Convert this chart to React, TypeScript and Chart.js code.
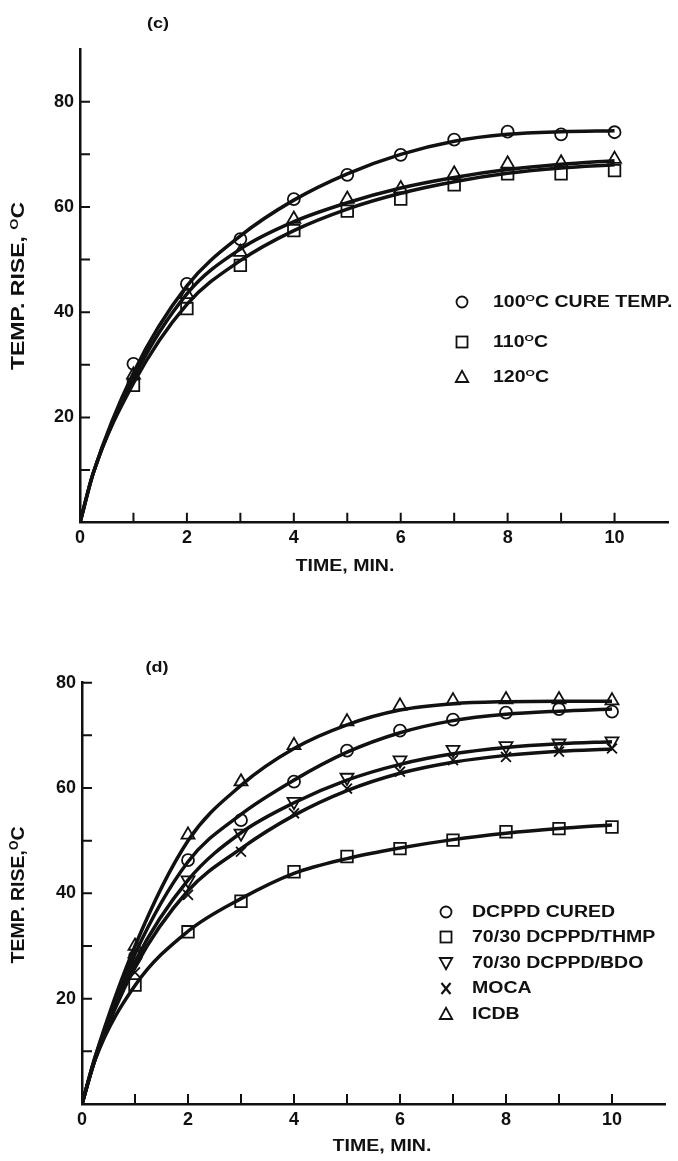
import React, { useEffect, useRef } from "react";
import { Chart, registerables } from "chart.js";

Chart.register(...registerables);

// ---------- Panel (c): cure temperature ----------
const C_MARK_T = [1, 2, 3, 4, 5, 6, 7, 8, 9, 10];
const C_100_MARK = [30.2, 45.4, 53.9, 61.5, 66.1, 69.9, 72.8, 74.3, 73.8, 74.2];
const C_110_MARK = [26.1, 40.7, 48.9, 55.5, 59.2, 61.5, 64.2, 66.3, 66.3, 66.9];
const C_120_MARK = [28.1, 43.4, 51.4, 57.7, 61.5, 63.5, 66.3, 68.2, 68.4, 69.1];
const C_CURVE_T = [0, 0.25, 1, 2, 3, 4, 5, 6, 7, 8, 9, 10];
const C_100_CURVE = [0, 9.5, 28.5, 45, 54.5, 61.3, 66.3, 70, 72.5, 73.8, 74.3, 74.5];
const C_110_CURVE = [0, 9.5, 26.5, 41.5, 49.8, 55.5, 59.6, 62.6, 64.8, 66.4, 67.4, 68.0];
const C_120_CURVE = [0, 9.5, 27.5, 43.5, 52, 57.2, 60.8, 63.6, 65.6, 67.1, 68.1, 68.8];
const C_Y_MAX = 90;
const C_Y_TICKS = [10, 20, 30, 40, 50, 60, 70, 80];
const C_Y_LABELS = [20, 40, 60, 80];

// ---------- Panel (d): curing agents ----------
const D_MARK_T = [1, 2, 3, 4, 5, 6, 7, 8, 9, 10];
const D_CURED_MARK = [28, 46.3, 53.9, 61.2, 67.1, 70.9, 73.0, 74.3, 75.0, 74.5];
const D_THMP_MARK = [22.6, 32.7, 38.5, 44.1, 47.0, 48.5, 50.1, 51.7, 52.3, 52.6];
const D_BDO_MARK = [27, 42.5, 51.4, 57.4, 62.0, 65.3, 67.3, 68.0, 68.5, 68.9];
const D_MOCA_MARK = [25, 39.7, 47.9, 55.2, 59.9, 63.1, 65.3, 65.9, 66.9, 67.5];
const D_ICDB_MARK = [30, 51.1, 61.2, 68.1, 72.6, 75.6, 76.6, 76.8, 76.8, 76.6];
const D_CURVE_T = [0, 0.25, 1, 2, 3, 4, 5, 6, 7, 8, 9, 10];
const D_CURED_CURVE = [0, 9, 28.5, 46, 55, 61.5, 66.8, 70.5, 72.8, 74.0, 74.6, 75.0];
const D_THMP_CURVE = [0, 8.5, 22.5, 32.8, 39, 43.8, 46.6, 48.6, 50.2, 51.4, 52.3, 53.0];
const D_BDO_CURVE = [0, 8.5, 27, 42.5, 51.5, 57.2, 61.5, 64.5, 66.5, 67.7, 68.4, 68.8];
const D_MOCA_CURVE = [0, 8.5, 26, 40.5, 48.5, 54.8, 59.5, 62.8, 64.9, 66.2, 67, 67.4];
const D_ICDB_CURVE = [0, 9, 30, 50, 60.5, 67.5, 72, 74.8, 76, 76.4, 76.5, 76.5];
const D_Y_MAX = 80;
const D_Y_TICKS = [10, 20, 30, 40, 50, 60, 70, 80];
const D_Y_LABELS = [20, 40, 60, 80];

// ---------- shared axis ----------
const X_MAX = 11;
const X_TICKS = [1, 2, 3, 4, 5, 6, 7, 8, 9, 10];
const X_LABELS = [0, 2, 4, 6, 8, 10];

const C_LEGEND = ["100", "110", "120"];
const D_LEGEND = ["DCPPD CURED", "70/30 DCPPD/THMP", "70/30 DCPPD/BDO", "MOCA", "ICDB"];

const FONT = "'Liberation Sans', Arial, Helvetica, sans-serif";
const INK = "#111";

const pts = (t: number[], v: number[]) => t.map((x, i) => ({ x, y: v[i] }));

const curve = (t: number[], v: number[]) => ({
  data: pts(t, v),
  showLine: true,
  borderColor: INK,
  borderWidth: 3.5,
  pointRadius: 0,
  cubicInterpolationMode: "monotone" as const,
  fill: false,
});

const marks = (t: number[], v: number[], style: string, radius: number, rotation = 0) => ({
  data: pts(t, v),
  showLine: false,
  pointStyle: style,
  pointRadius: radius,
  pointRotation: rotation,
  pointBorderColor: INK,
  pointBorderWidth: 1.8,
  pointBackgroundColor: "rgba(0,0,0,0)",
  borderColor: INK,
  backgroundColor: "rgba(0,0,0,0)",
});

const inwardTicks = {
  id: "inwardTicks",
  afterDraw(chart: any, _args: any, opts: any) {
    const { ctx } = chart;
    const x = chart.scales.x;
    const y = chart.scales.y;
    ctx.save();
    ctx.strokeStyle = INK;
    ctx.lineWidth = 2;
    ctx.beginPath();
    for (const v of opts.yTicks || []) {
      const py = y.getPixelForValue(v);
      ctx.moveTo(x.left, py);
      ctx.lineTo(x.left + 10, py);
    }
    for (const v of opts.xTicks || []) {
      const px = x.getPixelForValue(v);
      ctx.moveTo(px, y.bottom);
      ctx.lineTo(px, y.bottom - 10);
    }
    ctx.stroke();
    ctx.restore();
  },
};

type PanelProps = {
  top: number;
  height: number;
  datasets: any[];
  yMax: number;
  yTicks: number[];
  yLabels: number[];
  leftW: number;
  bottomH: number;
  padTop: number;
  padRight: number;
};

function PanelChart(p: PanelProps) {
  const ref = useRef<HTMLCanvasElement | null>(null);
  useEffect(() => {
    if (!ref.current) return;
    const tickFont = { family: FONT, size: 18, weight: "bold" as const };
    const chart = new Chart(ref.current, {
      type: "scatter",
      data: { datasets: p.datasets },
      plugins: [inwardTicks],
      options: {
        animation: false,
        responsive: false,
        maintainAspectRatio: false,
        layout: { padding: { top: p.padTop, right: p.padRight, left: 0, bottom: 0 } },
        plugins: {
          legend: { display: false },
          tooltip: { enabled: false },
          inwardTicks: { yTicks: p.yTicks, xTicks: X_TICKS },
        } as any,
        scales: {
          x: {
            type: "linear",
            min: 0,
            max: X_MAX,
            grid: { display: false, drawTicks: false },
            border: { display: true, color: INK, width: 2.5 },
            ticks: {
              stepSize: 1,
              autoSkip: false,
              maxRotation: 0,
              padding: 5,
              color: INK,
              font: tickFont,
              callback: (v: any) => (X_LABELS.includes(Number(v)) ? String(v) : ""),
            },
            afterFit: (s: any) => {
              s.height = p.bottomH;
            },
          },
          y: {
            type: "linear",
            min: 0,
            max: p.yMax,
            grid: { display: false, drawTicks: false },
            border: { display: true, color: INK, width: 2.5 },
            ticks: {
              stepSize: 10,
              autoSkip: false,
              padding: 6,
              color: INK,
              font: tickFont,
              callback: (v: any) => (p.yLabels.includes(Number(v)) ? String(v) : ""),
            },
            afterFit: (s: any) => {
              s.width = p.leftW;
            },
          },
        },
      },
    });
    return () => chart.destroy();
  }, []);
  return (
    <canvas
      ref={ref}
      width={678}
      height={p.height}
      style={{ position: "absolute", left: 0, top: p.top, width: 678, height: p.height }}
    />
  );
}

function Txt(props: {
  x: number;
  y: number;
  size: number;
  sx?: number;
  sy?: number;
  rot?: number;
  left?: boolean;
  children: any;
}) {
  const { x, y, size, sx = 1, sy = 1, rot = 0, left = false } = props;
  return (
    <div
      style={{
        position: "absolute",
        left: x,
        top: y,
        fontFamily: FONT,
        fontWeight: "bold",
        fontSize: size,
        lineHeight: 1,
        whiteSpace: "nowrap",
        color: INK,
        transformOrigin: left ? "left center" : "center center",
        transform: `translate(${left ? "0" : "-50%"}, -50%) rotate(${rot}deg) scale(${sx}, ${sy})`,
      }}
    >
      {props.children}
    </div>
  );
}

const Sup = () => (
  <span style={{ fontSize: "0.62em", position: "relative", top: "-0.55em" }}>O</span>
);

function Mark({ kind, x, y }: { kind: string; x: number; y: number }) {
  const s = 16;
  let shape: any = null;
  if (kind === "circle") shape = <circle cx={8} cy={8} r={5.5} />;
  if (kind === "square") shape = <rect x={2.5} y={2.5} width={11} height={11} />;
  if (kind === "tri") shape = <polygon points="8,1.8 14.2,13 1.8,13" />;
  if (kind === "itri") shape = <polygon points="8,14.2 14.2,3 1.8,3" />;
  if (kind === "x")
    shape = (
      <g>
        <line x1={3.5} y1={3} x2={12.5} y2={14} />
        <line x1={12.5} y1={3} x2={3.5} y2={14} />
      </g>
    );
  return (
    <svg
      width={s}
      height={s}
      style={{ position: "absolute", left: x - s / 2, top: y - s / 2 }}
      fill="none"
      stroke={INK}
      strokeWidth={kind === "x" ? 2.2 : 1.8}
    >
      {shape}
    </svg>
  );
}

export default function App() {
  const cData = [
    curve(C_CURVE_T, C_100_CURVE),
    curve(C_CURVE_T, C_110_CURVE),
    curve(C_CURVE_T, C_120_CURVE),
    marks(C_MARK_T, C_100_MARK, "circle", 6),
    marks(C_MARK_T, C_110_MARK, "rect", 8.2),
    marks(C_MARK_T, C_120_MARK, "triangle", 7.5),
  ];
  const dData = [
    curve(D_CURVE_T, D_CURED_CURVE),
    curve(D_CURVE_T, D_THMP_CURVE),
    curve(D_CURVE_T, D_BDO_CURVE),
    curve(D_CURVE_T, D_MOCA_CURVE),
    curve(D_CURVE_T, D_ICDB_CURVE),
    marks(D_MARK_T, D_CURED_MARK, "circle", 6),
    marks(D_MARK_T, D_THMP_MARK, "rect", 8.2),
    marks(D_MARK_T, D_BDO_MARK, "triangle", 7.5, 180),
    marks(D_MARK_T, D_MOCA_MARK, "crossRot", 7),
    marks(D_MARK_T, D_ICDB_MARK, "triangle", 7.5),
  ];
  const dKinds = ["circle", "square", "itri", "x", "tri"];
  const dRows = [911.7, 937.3, 962.5, 988, 1014];
  const cKinds = ["circle", "square", "tri"];
  const cRows = [301.7, 341.7, 376.7];

  return (
    <div style={{ position: "absolute", left: 0, top: 0, width: 678, height: 1161, background: "#fff", overflow: "hidden" }}>
      <PanelChart
        top={0}
        height={600}
        datasets={cData}
        yMax={C_Y_MAX}
        yTicks={C_Y_TICKS}
        yLabels={C_Y_LABELS}
        leftW={80}
        bottomH={77.3}
        padTop={49.1}
        padRight={9.5}
      />
      <PanelChart
        top={600}
        height={561}
        datasets={dData}
        yMax={D_Y_MAX}
        yTicks={D_Y_TICKS}
        yLabels={D_Y_LABELS}
        leftW={82}
        bottomH={57}
        padTop={82.7}
        padRight={13}
      />

      {/* panel (c) texts */}
      <Txt x={158} y={22} size={15} sx={1.2}>(c)</Txt>
      <Txt x={17.5} y={286} size={18} rot={-90} sx={1.28} sy={1.05}>
        TEMP. RISE, <Sup />C
      </Txt>
      <Txt x={345} y={565} size={17} sx={1.15}>TIME, MIN.</Txt>
      {cKinds.map((k, i) => (
        <Mark key={"cm" + i} kind={k} x={461.7} y={cRows[i]} />
      ))}
      <Txt x={492.7} y={cRows[0]} size={16} sx={1.22} left>
        {C_LEGEND[0]}<Sup />C CURE TEMP.
      </Txt>
      <Txt x={492.7} y={cRows[1]} size={16} sx={1.22} left>
        {C_LEGEND[1]}<Sup />C
      </Txt>
      <Txt x={492.7} y={cRows[2]} size={16} sx={1.22} left>
        {C_LEGEND[2]}<Sup />C
      </Txt>

      {/* panel (d) texts */}
      <Txt x={157} y={666} size={15} sx={1.2}>(d)</Txt>
      <Txt x={17.5} y={895} size={16} rot={-90} sx={1.22} sy={1.2}>
        TEMP. RISE,<Sup />C
      </Txt>
      <Txt x={382} y={1145} size={17} sx={1.15}>TIME, MIN.</Txt>
      {dKinds.map((k, i) => (
        <Mark key={"dm" + i} kind={k} x={446} y={dRows[i]} />
      ))}
      {D_LEGEND.map((t, i) => (
        <Txt key={"dl" + i} x={471.7} y={dRows[i]} size={16} sx={1.22} left>
          {t}
        </Txt>
      ))}
    </div>
  );
}
